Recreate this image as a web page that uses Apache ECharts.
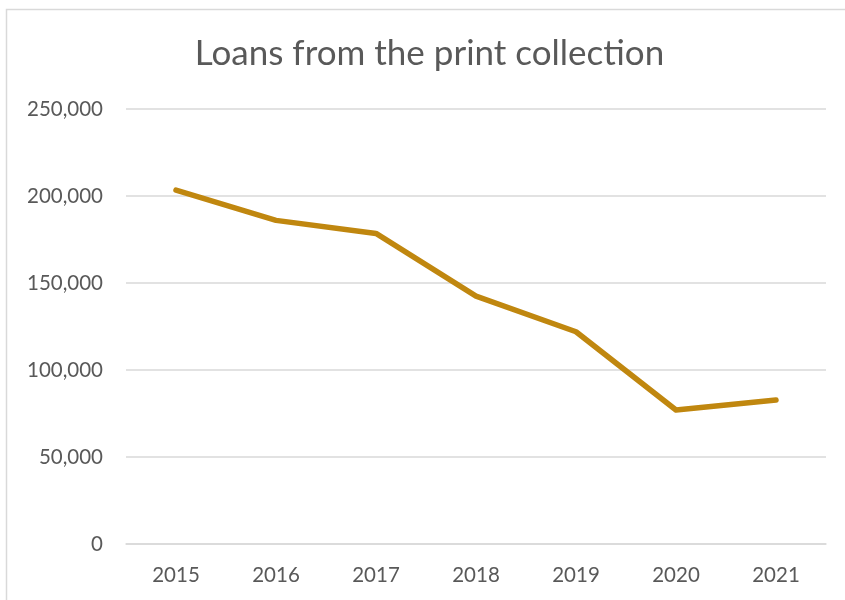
<!DOCTYPE html>
<html>
<head>
<meta charset="utf-8">
<script src="https://cdn.jsdelivr.net/npm/echarts@6/dist/echarts.min.js"></script>
<style>
html,body{margin:0;padding:0;background:#fff;}
#c{width:845px;height:600px;}
</style>
</head>
<body>
<div id="c"></div>
<script>
const titleText = 'Loans from the print collection';
const years = ['2015','2016','2017','2018','2019','2020','2021'];
const loans = [203400, 186000, 178500, 142500, 122000, 77000, 82800];
const yTicks = [0, 50000, 100000, 150000, 200000, 250000];

const chart = echarts.init(document.getElementById('c'), null, {renderer:'canvas'});
chart.setOption({
  backgroundColor:'#fff',
  animation:false,
  graphic:[{
    type:'polyline',
    shape:{points:[[6.5,700],[6.5,9.5],[900,9.5]]},
    style:{stroke:'#d9d9d9',lineWidth:1.5,fill:null},
    silent:true
  },{
    type:'text',
    x:429.5,
    y:54,
    style:{text:titleText,fontFamily:'Lato',fontSize:35,fontWeight:'normal',fill:'#595959',
      align:'center',verticalAlign:'middle'},
    silent:true
  }],
  grid:{left:126,right:19,top:109,bottom:56,containLabel:false},
  xAxis:{
    type:'category',
    data:years,
    boundaryGap:true,
    axisLine:{show:true,lineStyle:{color:'#d9d9d9',width:1.5}},
    axisTick:{show:false},
    axisLabel:{color:'#595959',fontFamily:'Lato',fontSize:20.5,margin:21}
  },
  yAxis:{
    type:'value',
    min:yTicks[0],
    max:yTicks[yTicks.length-1],
    interval:50000,
    axisLine:{show:false},
    axisTick:{show:false},
    splitLine:{lineStyle:{color:'#d9d9d9',width:1.5}},
    axisLabel:{color:'#595959',fontFamily:'Lato',fontSize:20.5,margin:23,
      formatter:v=>v.toLocaleString('en-US')}
  },
  series:[{
    type:'line',
    data:loans,
    showSymbol:false,
    symbol:'none',
    lineStyle:{color:'#C0870F',width:5.5,cap:'round',join:'round'},
    itemStyle:{color:'#C0870F'}
  }]
});
</script>
</body>
</html>
